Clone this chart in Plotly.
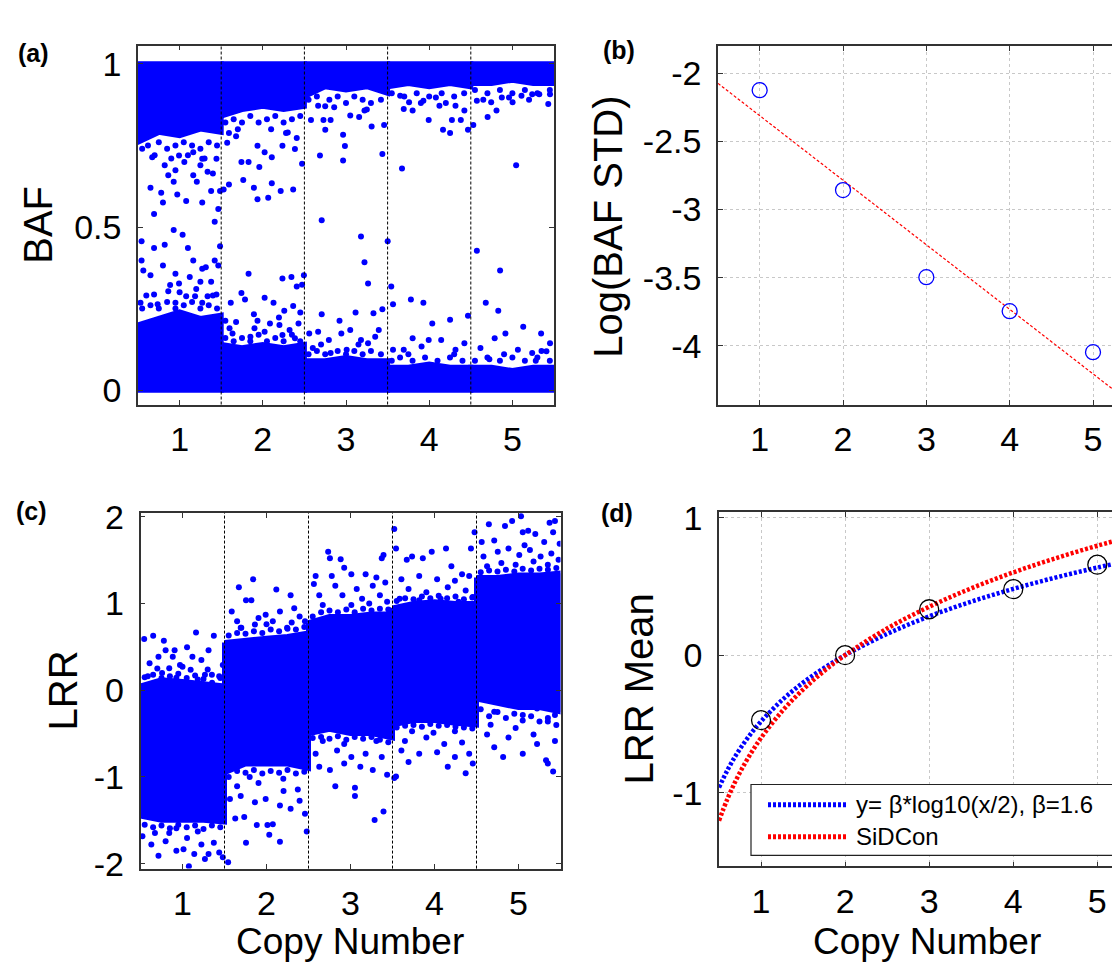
import plotly.graph_objects as go

# ---------------- data ----------------
copy_numbers = [1, 2, 3, 4, 5]
segment_bounds = [1.5, 2.5, 3.5, 4.5]
profile_offsets = [-0.5, -0.25, 0.0, 0.25, 0.5]

# (a) BAF: dense bands (lower edge of the band at 1, upper edge of the band at 0)
baf_top_lower = [
    [0.76, 0.79, 0.78, 0.80, 0.79],
    [0.84, 0.86, 0.87, 0.86, 0.87],
    [0.90, 0.93, 0.92, 0.93, 0.91],
    [0.93, 0.94, 0.93, 0.94, 0.93],
    [0.94, 0.94, 0.95, 0.94, 0.94],
]
baf_bot_upper = [
    [0.20, 0.22, 0.24, 0.22, 0.23],
    [0.14, 0.13, 0.14, 0.13, 0.14],
    [0.09, 0.09, 0.10, 0.09, 0.09],
    [0.07, 0.07, 0.08, 0.07, 0.07],
    [0.07, 0.07, 0.06, 0.07, 0.07],
]
# (a) BAF: points close to the band edges
baf_edge_x = [0.55, 0.62, 0.75, 0.85, 0.95, 1.05, 1.15, 1.25, 1.35, 1.45, 0.70, 1.10, 1.30, 0.90,
              1.55, 1.65, 1.75, 1.85, 1.95, 2.05, 2.15, 2.25, 2.35, 2.45, 1.70, 2.10, 2.30,
              2.55, 2.65, 2.80, 2.90, 3.00, 3.10, 3.20, 3.30, 3.42, 2.75, 3.25,
              3.55, 3.70, 3.85, 4.00, 4.15, 4.30, 4.42, 3.90, 4.20,
              4.55, 4.70, 4.85, 5.00, 5.15, 5.30, 5.45, 4.65, 5.20,
              0.55, 0.65, 0.75, 0.85, 0.95, 1.05, 1.15, 1.25, 1.35, 1.45, 0.60, 1.00, 1.20, 1.40,
              1.55, 1.65, 1.75, 1.85, 1.95, 2.05, 2.15, 2.25, 2.35, 2.45, 1.60, 1.90, 2.20,
              2.55, 2.65, 2.75, 2.90, 3.00, 3.10, 3.20, 3.30, 3.42, 2.70, 3.15,
              3.55, 3.65, 3.80, 3.95, 4.10, 4.25, 4.40, 3.75, 4.30,
              4.55, 4.70, 4.85, 5.00, 5.15, 5.30, 5.45, 4.90, 5.35]
baf_edge_y = [0.74, 0.75, 0.76, 0.74, 0.75, 0.76, 0.75, 0.74, 0.76, 0.75, 0.72, 0.72, 0.71, 0.71,
              0.82, 0.83, 0.82, 0.84, 0.82, 0.83, 0.84, 0.82, 0.83, 0.84, 0.80, 0.80, 0.79,
              0.89, 0.90, 0.89, 0.90, 0.88, 0.90, 0.89, 0.88, 0.89, 0.87, 0.86,
              0.91, 0.90, 0.91, 0.90, 0.91, 0.90, 0.91, 0.88, 0.88,
              0.92, 0.91, 0.92, 0.91, 0.92, 0.91, 0.92, 0.89, 0.89,
              0.25, 0.26, 0.25, 0.27, 0.25, 0.26, 0.27, 0.25, 0.26, 0.25, 0.29, 0.30, 0.31, 0.29,
              0.16, 0.15, 0.16, 0.15, 0.17, 0.15, 0.16, 0.15, 0.17, 0.15, 0.19, 0.19, 0.20,
              0.11, 0.12, 0.11, 0.12, 0.11, 0.12, 0.11, 0.12, 0.11, 0.14, 0.14,
              0.09, 0.10, 0.09, 0.10, 0.09, 0.10, 0.09, 0.11, 0.11,
              0.09, 0.10, 0.09, 0.10, 0.09, 0.10, 0.09, 0.11, 0.12]
# (a) BAF: scattered points away from the bands
baf_x = [0.671, 0.821, 0.950, 1.057, 1.164, 1.272, 1.400, 1.443, 0.650, 0.779, 0.972, 1.079, 1.272, 1.379,
         1.486, 0.800, 0.693, 1.465, 0.929, 1.207, 1.336, 0.993, 1.164, 0.864, 1.250,
         1.529, 1.593, 1.765, 1.893, 1.936, 2.065, 2.108, 2.215, 2.365, 1.743, 1.829, 1.958, 2.108, 2.236,
         2.386, 2.472, 1.572, 1.679, 1.936, 2.022, 2.279, 2.408, 1.593,
         2.687, 2.965, 2.987, 3.437, 2.965, 2.729, 2.815, 2.751, 3.051, 3.308, 2.579, 3.158, 3.458, 2.665,
         2.858, 3.222,
         3.673, 3.994, 4.166, 4.251, 4.273, 4.380, 3.694, 3.801, 3.758, 3.930, 4.123, 4.316, 4.423, 4.466,
         3.651, 4.080,
         4.530, 4.702, 4.809, 5.002, 5.045, 5.109, 5.238, 5.323, 5.431, 5.452, 4.873, 4.573, 4.745, 4.959,
         0.543, 0.693, 0.821, 0.929, 1.036, 1.100, 1.422, 1.486, 0.543, 0.564, 0.800, 0.950, 1.164, 1.272,
         1.315, 1.422, 1.465, 0.650, 0.886, 0.993, 1.122, 1.250, 1.379, 0.693, 0.864, 1.079, 1.186, 1.336,
         1.443, 0.530, 0.736, 0.950, 1.272,
         1.829, 1.743, 2.022, 2.236, 2.344, 2.408, 2.472, 2.494, 1.615, 1.786, 1.893, 2.129, 2.258, 2.365,
         2.451, 1.550, 1.679, 1.936, 2.086, 2.194, 2.322, 2.429, 1.636, 1.851, 2.022, 2.236, 2.386,
         2.708, 3.180, 3.222, 3.265, 2.708, 2.922, 3.115, 3.330, 3.437, 3.394, 2.944, 3.051, 2.665, 2.558,
         2.794, 3.180, 3.265, 2.601, 2.815, 3.008, 3.351,
         3.501, 3.544, 3.565, 3.780, 3.930, 4.037, 4.251, 4.466, 3.801, 3.994, 4.144, 3.694, 3.908, 4.316,
         4.423, 3.565,
         4.573, 4.852, 4.680, 4.830, 4.916, 5.130, 5.345, 5.452, 4.787, 5.066, 5.238, 4.616, 5.409, 4.723,
         5.281]
baf_y = [0.714, 0.689, 0.674, 0.699, 0.659, 0.709, 0.664, 0.709, 0.620, 0.605, 0.600, 0.580, 0.575, 0.610,
         0.610, 0.575, 0.540, 0.555, 0.639, 0.639, 0.669, 0.719, 0.729, 0.659, 0.689,
         0.615, 0.630, 0.644, 0.620, 0.585, 0.590, 0.634, 0.610, 0.615, 0.699, 0.699, 0.684, 0.714, 0.749,
         0.739, 0.694, 0.758, 0.778, 0.749, 0.729, 0.788, 0.773, 0.788,
         0.719, 0.704, 0.748, 0.724, 0.783, 0.828, 0.828, 0.798, 0.842, 0.808, 0.828, 0.837, 0.813, 0.872,
         0.867, 0.857,
         0.679, 0.828, 0.798, 0.788, 0.828, 0.828, 0.862, 0.857, 0.882, 0.887, 0.872, 0.872, 0.857, 0.798,
         0.902, 0.897,
         0.813, 0.837, 0.857, 0.882, 0.689, 0.902, 0.907, 0.907, 0.877, 0.907, 0.897, 0.887, 0.882, 0.897,
         0.456, 0.436, 0.446, 0.491, 0.476, 0.436, 0.516, 0.441, 0.397, 0.367, 0.382, 0.357, 0.397, 0.372,
         0.377, 0.397, 0.382, 0.352, 0.322, 0.327, 0.347, 0.332, 0.332, 0.293, 0.303, 0.288, 0.288, 0.288,
         0.293, 0.268, 0.263, 0.268, 0.268,
         0.357, 0.298, 0.283, 0.342, 0.347, 0.318, 0.323, 0.352, 0.268, 0.278, 0.233, 0.268, 0.243, 0.258,
         0.238, 0.213, 0.209, 0.213, 0.204, 0.223, 0.184, 0.204, 0.174, 0.164, 0.179, 0.169, 0.159,
         0.521, 0.471, 0.392, 0.327, 0.233, 0.213, 0.238, 0.236, 0.248, 0.184, 0.174, 0.184, 0.179, 0.174,
         0.154, 0.154, 0.144, 0.129, 0.114, 0.124, 0.164,
         0.456, 0.318, 0.263, 0.278, 0.268, 0.204, 0.216, 0.228, 0.159, 0.154, 0.154, 0.124, 0.134, 0.124,
         0.144, 0.124,
         0.427, 0.367, 0.268, 0.243, 0.174, 0.194, 0.174, 0.144, 0.159, 0.124, 0.114, 0.129, 0.119, 0.095,
         0.090]

# (c) LRR: dense cores (upper / lower edges)
lrr_core_upper = [
    [0.05, 0.12, 0.10, 0.08, 0.05],
    [0.55, 0.58, 0.60, 0.62, 0.66],
    [0.78, 0.85, 0.85, 0.88, 0.88],
    [0.95, 1.00, 1.02, 1.00, 1.00],
    [1.30, 1.30, 1.33, 1.33, 1.35],
]
lrr_core_lower = [
    [-1.45, -1.50, -1.50, -1.50, -1.52],
    [-0.95, -0.85, -0.85, -0.85, -0.90],
    [-0.50, -0.45, -0.50, -0.50, -0.55],
    [-0.40, -0.35, -0.35, -0.38, -0.40],
    [-0.10, -0.15, -0.20, -0.20, -0.25],
]
# (c) LRR: points close to the core edges
lrr_edge_x = [0.55, 0.65, 0.75, 0.85, 0.95, 1.05, 1.15, 1.25, 1.35, 1.45, 0.70, 1.00, 1.30,
              0.55, 0.65, 0.75, 0.85, 0.95, 1.05, 1.15, 1.25, 1.35, 1.45,
              1.55, 1.65, 1.75, 1.85, 1.95, 2.05, 2.15, 2.25, 2.35, 2.45, 1.70, 2.00, 2.30,
              1.55, 1.65, 1.75, 1.85, 1.95, 2.05, 2.15, 2.25, 2.35, 2.45, 1.80, 2.20,
              2.55, 2.65, 2.75, 2.85, 2.95, 3.05, 3.15, 3.25, 3.35, 3.45,
              2.55, 2.65, 2.75, 2.85, 2.95, 3.05, 3.15, 3.25, 3.35, 3.45,
              3.55, 3.65, 3.75, 3.85, 3.95, 4.05, 4.15, 4.25, 4.35, 4.45,
              3.55, 3.65, 3.75, 3.85, 3.95, 4.05, 4.15, 4.25, 4.35, 4.45,
              4.55, 4.65, 4.75, 4.85, 4.95, 5.05, 5.15, 5.25, 5.35, 5.45,
              4.55, 4.65, 4.75, 4.85, 4.95, 5.05, 5.15, 5.25, 5.35, 5.45]
lrr_edge_y = [0.15, 0.18, 0.14, 0.16, 0.19, 0.14, 0.17, 0.13, 0.18, 0.14, 0.25, 0.27, 0.24,
              -1.55, -1.58, -1.56, -1.59, -1.55, -1.58, -1.56, -1.60, -1.56, -1.58,
              0.63, 0.66, 0.65, 0.68, 0.66, 0.70, 0.68, 0.71, 0.70, 0.73, 0.72, 0.76, 0.78,
              -1.00, -0.93, -0.95, -0.92, -0.96, -0.93, -0.95, -0.92, -0.96, -0.94, -1.00, -1.02,
              0.85, 0.90, 0.92, 0.90, 0.93, 0.90, 0.94, 0.92, 0.94, 0.93,
              -0.55, -0.54, -0.56, -0.53, -0.57, -0.54, -0.56, -0.54, -0.57, -0.60,
              1.03, 1.06, 1.05, 1.08, 1.06, 1.09, 1.06, 1.08, 1.05, 1.07,
              -0.43, -0.41, -0.40, -0.42, -0.39, -0.41, -0.40, -0.42, -0.43, -0.44,
              1.36, 1.38, 1.37, 1.39, 1.37, 1.40, 1.38, 1.40, 1.39, 1.41,
              -0.22, -0.30, -0.25, -0.32, -0.27, -0.35, -0.30, -0.36, -0.32, -0.40]
# (c) LRR: scattered points away from the cores
lrr_x = [0.544, 0.651, 0.799, 0.884, 0.970, 1.161, 1.225, 1.373, 1.480, 0.778, 0.714, 1.054, 1.310, 0.608,
         0.906, 1.118, 0.587, 0.757, 0.927, 1.097, 1.267, 1.437, 0.842, 1.182, 0.672, 1.352,
         0.523, 0.629, 0.714, 0.799, 0.927, 1.012, 1.076, 1.140, 1.267, 1.310, 1.437, 1.480, 1.543, 0.672,
         0.842, 1.054, 1.225, 1.373, 0.927, 1.182,
         1.671, 1.841, 1.756, 1.820, 2.117, 2.287, 1.586, 1.650, 1.905, 1.990, 2.160, 2.330, 2.394, 2.458,
         1.693, 1.862, 2.075, 2.245,
         1.628, 1.735, 1.756, 1.884, 2.011, 2.033, 2.075, 2.160, 2.479, 2.458, 1.565, 1.693, 1.862, 1.990,
         2.160, 2.287, 2.394, 1.650, 1.905, 2.203, 2.373,
         2.564, 2.734, 2.755, 2.883, 2.925, 3.393, 3.372, 2.585, 2.777, 3.010, 3.180, 3.308, 2.819, 3.074,
         3.265, 3.414, 2.628, 2.904, 3.138, 3.350, 2.670, 3.010, 3.223, 3.436,
         2.819, 3.053, 3.053, 3.287, 3.393, 3.521, 2.628, 2.755, 2.925, 3.117, 3.265, 3.436, 2.585, 2.840,
         3.010, 3.180, 3.372, 2.670, 2.925, 3.308,
         3.521, 3.542, 3.670, 3.733, 3.861, 3.967, 4.137, 4.201, 4.328, 4.434, 4.477, 3.606, 3.818, 4.031,
         4.243, 4.413, 3.691, 3.903, 4.158, 4.371, 3.585, 3.818, 4.073, 4.286, 4.456,
         3.542, 3.691, 4.158, 4.371, 4.456, 3.606, 3.818, 4.031, 4.243, 4.413, 3.648, 3.903, 4.116, 4.328,
         3.733, 3.988, 4.243,
         4.562, 4.647, 4.711, 4.839, 4.924, 5.051, 5.072, 5.115, 5.200, 5.306, 5.370, 5.412, 5.434, 5.490,
         4.583, 4.753, 4.881, 5.009, 5.136, 5.263, 5.391, 4.626, 4.796, 4.966, 5.179, 5.349, 5.477, 5.030,
         4.583, 4.711, 4.881, 5.051, 5.221, 5.349, 4.668, 4.966, 5.434,
         4.817, 5.051, 5.328, 5.349, 5.412, 4.626, 4.881, 5.179, 5.434, 4.711, 5.221]
lrr_y = [0.590, 0.627, 0.460, 0.385, 0.292, 0.665, 0.348, 0.627, 0.292, 0.572, 0.385, 0.497, 0.460, 0.311,
         0.460, 0.385, 0.161, 0.199, 0.143, 0.236, 0.180, 0.161, 0.255, 0.124, 0.087, 0.087,
         -1.684, -1.777, -1.907, -1.740, -1.851, -1.833, -2.030, -1.889, -1.945, -1.889, -1.870, -1.926,
         -1.982, -1.646, -1.646, -1.702, -1.777, -1.758, -1.590, -1.628,
         1.187, 1.280, 1.038, 1.038, 1.161, 1.094, 0.907, 0.795, 0.833, 0.870, 0.907, 0.945, 0.851, 0.795,
         0.721, 0.758, 0.795, 0.721,
         -1.479, -1.460, -1.758, -1.553, -1.553, -1.665, -1.546, -1.747, -1.628, -1.423, -1.255, -1.218,
         -1.292, -1.255, -1.329, -1.367, -1.273, -1.106, -1.068, -1.162, -1.143,
         1.224, 1.597, 1.522, 1.511, 1.411, 1.560, 1.522, 1.317, 1.317, 1.336, 1.336, 1.299, 1.205, 1.168,
         1.205, 1.243, 1.094, 1.094, 1.056, 1.094, 0.982, 0.982, 1.000, 1.019,
         -1.106, -1.218, -1.124, -1.497, -1.397, -1.012, -0.882, -0.919, -0.845, -0.882, -0.919, -0.975,
         -0.733, -0.696, -0.770, -0.733, -0.770, -0.584, -0.621, -0.584,
         1.858, 1.634, 1.504, 1.541, 1.522, 1.597, 1.634, 1.429, 1.336, 1.634, 1.821, 1.280, 1.317, 1.280,
         1.262, 1.317, 1.168, 1.131, 1.187, 1.150, 1.056, 1.038, 1.056, 1.019, 1.075,
         -0.994, -0.826, -0.882, -0.957, -0.845, -0.696, -0.733, -0.714, -0.770, -0.733, -0.584, -0.546,
         -0.621, -0.602, -0.472, -0.490, -0.472,
         1.709, 1.914, 1.727, 1.895, 1.951, 1.821, 1.671, 1.839, 1.802, 1.709, 1.932, 1.821, 1.951, 1.690,
         1.541, 1.597, 1.634, 1.560, 1.616, 1.541, 1.578, 1.429, 1.467, 1.448, 1.485, 1.448, 1.504, 2.007,
         -0.100, -0.249, -0.137, -0.286, -0.211, -0.360, -0.398, -0.435, -0.286,
         -0.770, -0.733, -0.807, -0.845, -0.938, -0.509, -0.546, -0.509, -0.584, -0.658, -0.621]

# (b) log BAF STD per copy number, and the fitted line
baf_std_log = [-2.125, -2.858, -3.497, -3.746, -4.047]
fit_x = [0.5, 5.5]
fit_y = [-2.075, -4.443]

# (d) LRR mean per copy number and two model curves
lrr_mean = [-0.473, 0.0, 0.334, 0.480, 0.658]
curve_x = [0.5, 0.6, 0.7, 0.8, 0.9, 1.0, 1.25, 1.5, 1.75, 2.0, 2.5, 3.0, 3.5, 4.0, 4.5, 5.0, 5.5]
curve_beta = [-0.963, -0.837, -0.729, -0.637, -0.555, -0.482, -0.327, -0.200, -0.093, 0.0, 0.155, 0.282,
              0.389, 0.482, 0.564, 0.637, 0.703]
curve_sidcon = [-1.204, -1.046, -0.912, -0.796, -0.694, -0.602, -0.408, -0.250, -0.116, 0.0, 0.194, 0.352,
                0.486, 0.602, 0.704, 0.796, 0.879]

baf_ticks = [0, 0.5, 1]
baf_ticktext = ["0", "0.5", "1"]
std_ticks = [-4, -3.5, -3, -2.5, -2]
std_ticktext = ["-4", "-3.5", "-3", "-2.5", "-2"]
lrr_ticks = [-2, -1, 0, 1, 2]
lrr_ticktext = ["-2", "-1", "0", "1", "2"]
mean_ticks = [-1, 0, 1]
mean_ticktext = ["-1", "0", "1"]
legend_labels = ["y= \u03b2*log10(x/2), \u03b2=1.6", "SiDCon"]

# ---------------- figure ----------------
W, H = 1120, 968
BLUE = "#0000FF"
RED = "#FF0000"
FONT = "Liberation Sans, Arial, Helvetica, sans-serif"

fig = go.Figure()

# (a) dense bands
for k, cn in enumerate(copy_numbers):
    xs = [cn + o for o in profile_offsets]
    top_x = [xs[0], xs[-1]] + xs[::-1] + [xs[0]]
    top_y = [1, 1] + baf_top_lower[k][::-1] + [1]
    fig.add_trace(go.Scatter(x=top_x, y=top_y, xaxis="x", yaxis="y", mode="lines", fill="toself",
                             fillcolor=BLUE, line=dict(color=BLUE, width=5), hoverinfo="skip"))
    bot_x = [xs[0], xs[-1]] + xs[::-1] + [xs[0]]
    bot_y = [0, 0] + baf_bot_upper[k][::-1] + [0]
    fig.add_trace(go.Scatter(x=bot_x, y=bot_y, xaxis="x", yaxis="y", mode="lines", fill="toself",
                             fillcolor=BLUE, line=dict(color=BLUE, width=5), hoverinfo="skip"))
fig.add_trace(go.Scatter(x=baf_edge_x + baf_x, y=baf_edge_y + baf_y, xaxis="x", yaxis="y", mode="markers",
                         marker=dict(color=BLUE, size=6, line=dict(width=0))))

# (b)
fig.add_trace(go.Scatter(x=fit_x, y=fit_y, xaxis="x2", yaxis="y2", mode="lines",
                         line=dict(color=RED, width=1.2, dash="3px,2px")))
fig.add_trace(go.Scatter(x=copy_numbers, y=baf_std_log, xaxis="x2", yaxis="y2", mode="markers",
                         marker=dict(symbol="circle-open", color=BLUE, size=15, line=dict(width=1.3))))

# (c) dense cores
for k, cn in enumerate(copy_numbers):
    xs = [cn + o for o in profile_offsets]
    cx = xs + xs[::-1] + [xs[0]]
    cy = lrr_core_upper[k] + lrr_core_lower[k][::-1] + [lrr_core_upper[k][0]]
    fig.add_trace(go.Scatter(x=cx, y=cy, xaxis="x3", yaxis="y3", mode="lines", fill="toself",
                             fillcolor=BLUE, line=dict(color=BLUE, width=5), hoverinfo="skip"))
fig.add_trace(go.Scatter(x=lrr_edge_x + lrr_x, y=lrr_edge_y + lrr_y, xaxis="x3", yaxis="y3", mode="markers",
                         marker=dict(color=BLUE, size=6, line=dict(width=0))))

# (d)
fig.add_trace(go.Scatter(x=curve_x, y=curve_beta, xaxis="x4", yaxis="y4", mode="lines",
                         line=dict(color=BLUE, width=4.5, dash="3px,2px", shape="spline")))
fig.add_trace(go.Scatter(x=curve_x, y=curve_sidcon, xaxis="x4", yaxis="y4", mode="lines",
                         line=dict(color=RED, width=4.5, dash="3px,2px", shape="spline")))
fig.add_trace(go.Scatter(x=copy_numbers, y=lrr_mean, xaxis="x4", yaxis="y4", mode="markers",
                         marker=dict(symbol="circle-open", color="black", size=19, line=dict(width=1.3))))


def px_x(v):
    return v / W


def px_y(v):
    return 1 - v / H


def xaxis(domain, anchor, rng, grid):
    return dict(domain=domain, anchor=anchor, range=rng, tickmode="array", tickvals=copy_numbers,
                ticktext=[str(c) for c in copy_numbers], ticks="inside", ticklen=5, tickwidth=1,
                tickcolor="#333333", showline=True, linecolor="#333333", linewidth=1.5, mirror="ticks",
                showgrid=grid, gridcolor="#c8c8c8", griddash="dot", gridwidth=1, zeroline=False,
                tickfont=dict(size=34, color="black", family=FONT), ticklabelstandoff=4)


def yaxis(domain, anchor, rng, tv, tt, grid, mirror):
    return dict(domain=domain, anchor=anchor, range=rng, tickmode="array", tickvals=tv, ticktext=tt,
                ticks="inside", ticklen=5, tickwidth=1, tickcolor="#333333", showline=True,
                linecolor="#333333", linewidth=1.5, mirror=mirror, showgrid=grid, gridcolor="#c8c8c8",
                griddash="dot", gridwidth=1, zeroline=False,
                tickfont=dict(size=34, color="black", family=FONT), ticklabelstandoff=8)


fig.update_layout(
    width=W, height=H, margin=dict(l=0, r=0, t=0, b=0),
    paper_bgcolor="white", plot_bgcolor="white", showlegend=False,
    font=dict(family=FONT, color="black"),
    xaxis=xaxis([px_x(130), px_x(546)], "y", [0.5, 5.5], False),
    yaxis=yaxis([px_y(393.3), px_y(23.3)], "x", [-0.044, 1.056], baf_ticks, baf_ticktext, False, "ticks"),
    xaxis2=xaxis([px_x(710), 1.0], "y2", [0.5, 5.42], True),
    yaxis2=yaxis([px_y(393.3), px_y(24)], "x2", [-4.431, -1.803], std_ticks, std_ticktext, True, False),
    xaxis3=xaxis([px_x(132.5), px_x(552.5)], "y3", [0.5, 5.5], False),
    yaxis3=yaxis([px_y(871.7), px_y(505)], "x3", [-2.056, 2.045], lrr_ticks, lrr_ticktext, False, "ticks"),
    xaxis4=xaxis([px_x(711), 1.0], "y4", [0.5, 5.365], True),
    yaxis4=yaxis([px_y(869.5), px_y(504)], "x4", [-1.537, 1.042], mean_ticks, mean_ticktext, True, False),
)

shapes = []
for b in segment_bounds:
    for xr, yr in (("x", "y"), ("x3", "y3")):
        shapes.append(dict(type="line", xref=xr, yref=yr + " domain", x0=b, x1=b, y0=0, y1=1,
                           line=dict(color="black", width=1, dash="3px,2px"), layer="above"))

# legend of panel (d)
shapes.append(dict(type="rect", xref="paper", yref="paper", x0=px_x(743), x1=px_x(1117),
                   y0=px_y(858), y1=px_y(785), line=dict(color="#222222", width=1.2),
                   fillcolor="white", layer="above"))
for yy, col in ((806, BLUE), (839, RED)):
    shapes.append(dict(type="line", xref="paper", yref="paper", x0=px_x(760), x1=px_x(838),
                       y0=px_y(yy), y1=px_y(yy), line=dict(color=col, width=5, dash="3px,2px"),
                       layer="above"))
fig.update_layout(shapes=shapes)

ann = []
for txt, x, y in (("(a)", 8, 31), ("(b)", 593, 28), ("(c)", 6, 503), ("(d)", 591, 505)):
    ann.append(dict(text="<b>%s</b>" % txt, x=px_x(x), y=px_y(y), xref="paper", yref="paper",
                    xanchor="left", yanchor="middle", showarrow=False,
                    font=dict(size=25, family=FONT, color="black")))
for txt, x, y in (("BAF", 30, 208), ("Log(BAF STD)", 600, 210), ("LRR", 55, 688), ("LRR Mean", 631, 687)):
    ann.append(dict(text=txt, x=px_x(x), y=px_y(y), xref="paper", yref="paper", textangle=-90,
                    xanchor="center", yanchor="middle", showarrow=False,
                    font=dict(size=40, family=FONT, color="black")))
for x in (342, 919):
    ann.append(dict(text="Copy Number", x=px_x(x), y=px_y(947), xref="paper", yref="paper",
                    xanchor="center", yanchor="middle", showarrow=False,
                    font=dict(size=37, family=FONT, color="black")))
for txt, yy in zip(legend_labels, (806, 839)):
    ann.append(dict(text=txt, x=px_x(846), y=px_y(yy), xref="paper", yref="paper",
                    xanchor="left", yanchor="middle", showarrow=False,
                    font=dict(size=24, family=FONT, color="black")))
fig.update_layout(annotations=ann)

fig.write_html("out.html")
